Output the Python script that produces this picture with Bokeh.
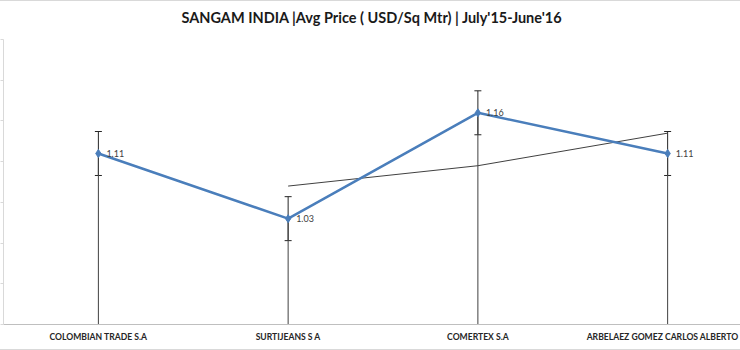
from bokeh.plotting import figure
from bokeh.models import Range1d, FixedTicker, ColumnDataSource, Whisker, TeeHead, LabelSet, CustomJSTickFormatter
from bokeh.core.properties import value
from bokeh.embed import file_html
from bokeh.resources import INLINE

title_text = "SANGAM INDIA |Avg Price ( USD/Sq Mtr) | July'15-June'16"
categories = ["COLOMBIAN TRADE S.A", "SURTIJEANS S A", "COMERTEX S.A", "ARBELAEZ GOMEZ  CARLOS ALBERTO"]
avg_price = [1.11, 1.03, 1.16, 1.11]
std_error = [0.027, 0.027, 0.027, 0.027]
moving_avg_x = [1, 2, 3]
moving_avg = [1.07, 1.095, 1.135]
y_ticks = [0.90, 0.95, 1.00, 1.05, 1.10, 1.15, 1.20, 1.25]
y_min, y_max = 0.90, 1.25

xs = list(range(len(categories)))
src = ColumnDataSource(dict(
    x=xs, y=avg_price,
    upper=[v + e for v, e in zip(avg_price, std_error)],
    lower=[v - e for v, e in zip(avg_price, std_error)],
    base=[y_min] * len(xs),
    lab=["%.2f" % v for v in avg_price],
))

p = figure(width=740, height=350, x_range=Range1d(-0.5, 3.384), y_range=Range1d(y_min, y_max),
           output_backend="svg", toolbar_location=None,
           min_border_left=0, min_border_right=0, min_border_top=0, min_border_bottom=27)
p.outline_line_color = None
p.xgrid.visible = False
p.ygrid.visible = False

p.title.text = title_text
p.title.align = "center"
p.title.text_font = "Lato"
p.title.text_font_style = "bold"
p.title.text_font_size = "14.5px"
p.title.text_color = "#1a1a1a"
p.title.padding = dict(top=0, bottom=9, left=0, right=0)

p.yaxis.ticker = FixedTicker(ticks=y_ticks)
p.yaxis.formatter = CustomJSTickFormatter(code="return ''")
p.yaxis.major_label_standoff = 0
p.yaxis.major_tick_out = 3
p.yaxis.major_tick_in = 0
p.yaxis.minor_tick_line_color = None
p.yaxis.axis_line_color = "#d9d9d9"
p.yaxis.major_tick_line_color = "#d9d9d9"

p.xaxis.ticker = FixedTicker(ticks=xs)
p.xaxis.major_label_overrides = {i: c for i, c in enumerate(categories)}
p.xaxis.major_tick_line_color = None
p.xaxis.minor_tick_line_color = None
p.xaxis.axis_line_color = "#bfbfbf"
p.xaxis.major_label_text_font = "Lato"
p.xaxis.major_label_text_font_style = "bold"
p.xaxis.major_label_text_font_size = "8.6px"
p.xaxis.major_label_text_color = "#262626"
p.xaxis.major_label_standoff = 1

# drop lines
p.segment(x0="x", y0="y", x1="x", y1="base", source=src, line_color="#404040", line_width=1)
# error bars
w = Whisker(source=src, base="x", upper="upper", lower="lower", dimension="height",
            line_color="#262626", line_width=1,
            upper_head=TeeHead(size=7, line_color="#262626", line_width=1),
            lower_head=TeeHead(size=7, line_color="#262626", line_width=1))
p.add_layout(w)
# moving average trendline
p.line(moving_avg_x, moving_avg, line_color="#404040", line_width=1)
# main series
p.line(x="x", y="y", source=src, line_color="#4a7ebb", line_width=2.5)
p.scatter(x="x", y="y", source=src, marker="diamond", size=8, fill_color="#4a7ebb", line_color="#4a7ebb")
labels = LabelSet(x="x", y="y", text="lab", source=src, x_offset=8, y_offset=0,
                  text_font=value("Lato"), text_font_size=value("9px"), text_color="#404040",
                  text_baseline="middle")
p.add_layout(labels)

p.styles = {"border-top": "1px solid #d9d9d9", "border-bottom": "1px solid #d9d9d9"}

open("out.html", "w").write(file_html(p, INLINE))
